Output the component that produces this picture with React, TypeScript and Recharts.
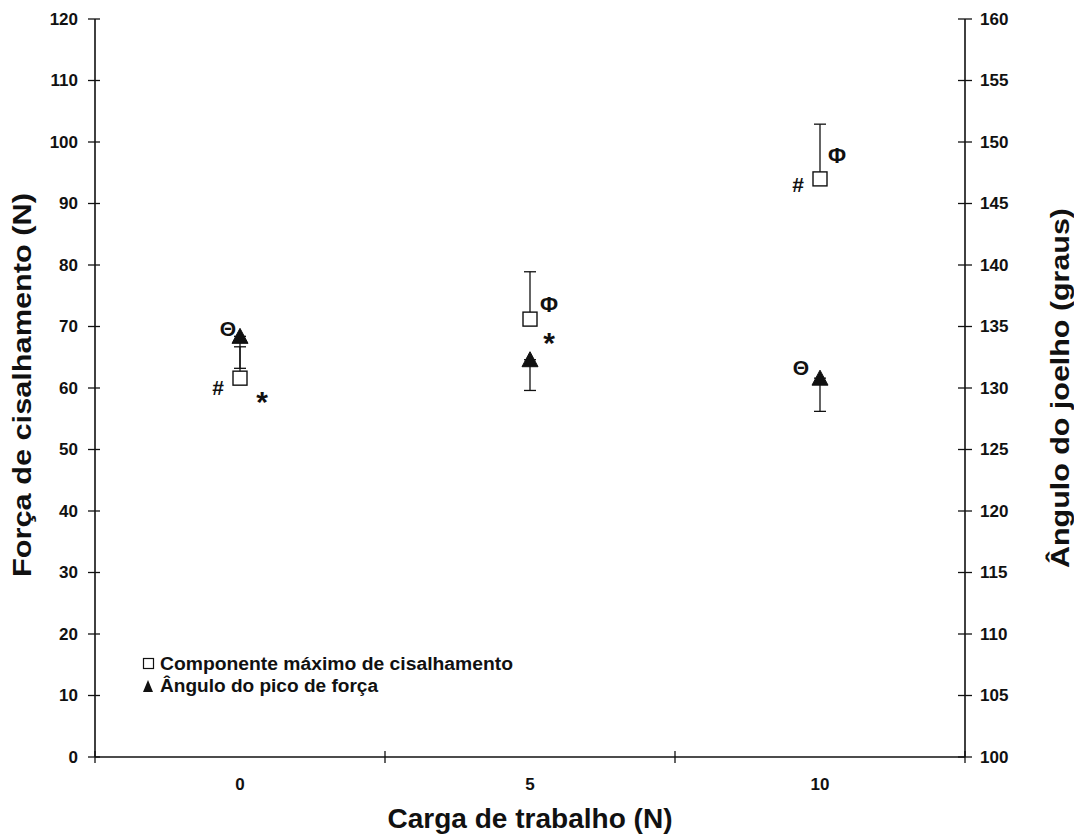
import React from 'react';
import { ScatterChart, Scatter, XAxis, YAxis, ErrorBar, Label, Legend } from 'recharts';

// ---- data ----
const workloads = [0, 5, 10];
const shearMax = [61.6, 71.2, 94.0];
const shearErrUp = [5.1, 7.7, 8.9];
const peakAngle = [134.2, 132.3, 130.8];
const peakAngleErrDown = [2.6, 2.5, 2.7];
const leftTicks = [0, 10, 20, 30, 40, 50, 60, 70, 80, 90, 100, 110, 120];
const rightTicks = [100, 105, 110, 115, 120, 125, 130, 135, 140, 145, 150, 155, 160];
const xTickLabels = [0, 5, 10];
const xTickMarks = [-2.5, 2.5, 7.5, 12.5];
const shearNotes = [['#', '*'], ['Φ', '*'], ['Φ', '#']];
const angleNotes = [['Θ'], [], ['Θ']];
const seriesNames = ['Componente máximo de cisalhamento', 'Ângulo do pico de força'];
const titles = {
  x: 'Carga de trabalho (N)',
  left: 'Força de cisalhamento (N)',
  right: 'Ângulo do joelho (graus)',
};

// ---- styling ----
const FONT = '"Liberation Sans", Arial, sans-serif';
const INK = '#111';
const shearNoteOffsets = [[[-22, 9], [22, 15]], [[19, -15], [19, 15]], [[17, -23], [-22, 6]]];
const angleNoteOffsets = [[[-12, -8]], [], [[-19, -11]]];
const noteSize: Record<string, number> = { '#': 21, '*': 30, 'Φ': 22, 'Θ': 21 };
const noteShift: Record<string, number> = { '#': 0, '*': 8, 'Φ': 0, 'Θ': 0 };

const shearData = workloads.map((x, i) => ({ x, y: shearMax[i], err: [0, shearErrUp[i]], i }));
const angleData = workloads.map((x, i) => ({ x, y: peakAngle[i], err: [peakAngleErrDown[i], 0], i }));

const Note = ({ cx, cy, s, off }: any) => (
  <text
    x={cx + off[0]}
    y={cy + off[1] + (noteShift[s] || 0)}
    textAnchor="middle"
    dominantBaseline="central"
    fontFamily={FONT}
    fontWeight="bold"
    fontSize={noteSize[s] || 18}
    fill={INK}
  >
    {s}
  </text>
);

const SquareShape = (props: any) => {
  const { cx, cy, payload } = props;
  const i = payload.i;
  return (
    <g>
      <rect x={cx - 7} y={cy - 7} width={14} height={14} fill="#fff" stroke={INK} strokeWidth={1.4} />
      {shearNotes[i].map((s, k) => (
        <Note key={k} cx={cx} cy={cy} s={s} off={shearNoteOffsets[i][k]} />
      ))}
    </g>
  );
};

const TriangleShape = (props: any) => {
  const { cx, cy, payload } = props;
  const i = payload.i;
  return (
    <g>
      <polygon points={`${cx - 8},${cy + 7} ${cx + 8},${cy + 7} ${cx},${cy - 8}`} fill={INK} stroke={INK} strokeWidth={1} />
      {angleNotes[i].map((s, k) => (
        <Note key={k} cx={cx} cy={cy} s={s} off={angleNoteOffsets[i][k]} />
      ))}
    </g>
  );
};

const tickText = { fontFamily: FONT, fontWeight: 'bold' as const, fontSize: 17, fill: INK };

const LeftTick = (p: any) => (
  <g>
    <line x1={p.x - 7} x2={p.x + 5} y1={p.y} y2={p.y} stroke={INK} strokeWidth={1.3} />
    <text x={p.x - 17} y={p.y} textAnchor="end" dominantBaseline="central" {...tickText}>
      {p.payload.value}
    </text>
  </g>
);

const RightTick = (p: any) => (
  <g>
    <line x1={p.x - 7} x2={p.x + 7} y1={p.y} y2={p.y} stroke={INK} strokeWidth={1.3} />
    <text x={p.x + 15} y={p.y} textAnchor="start" dominantBaseline="central" {...tickText}>
      {p.payload.value}
    </text>
  </g>
);

const XTick = (p: any) => {
  const v = p.payload.value;
  if (xTickMarks.includes(v)) {
    return <line x1={p.x} x2={p.x} y1={p.y - 6} y2={p.y + 6} stroke={INK} strokeWidth={1.3} />;
  }
  if (xTickLabels.includes(v)) {
    return (
      <text x={p.x} y={p.y + 27} textAnchor="middle" dominantBaseline="central" {...tickText}>
        {v}
      </text>
    );
  }
  return null;
};

const titleStyle = { fontFamily: FONT, fontWeight: 'bold' as const, fill: INK };

const LeftTitle = (props: any) => {
  const vb = props.viewBox;
  const x = vb.x + 14;
  const y = vb.y + vb.height / 2 - 3;
  return (
    <text x={x} y={y} transform={`rotate(-90 ${x} ${y})`} textAnchor="middle" dominantBaseline="central"
      fontSize={25} textLength={384} lengthAdjust="spacingAndGlyphs" {...titleStyle}>
      {titles.left}
    </text>
  );
};

const RightTitle = (props: any) => {
  const vb = props.viewBox;
  const x = vb.x + 95;
  const y = vb.y + vb.height / 2;
  return (
    <text x={x} y={y} transform={`rotate(-90 ${x} ${y})`} textAnchor="middle" dominantBaseline="central"
      fontSize={26} textLength={360} lengthAdjust="spacingAndGlyphs" {...titleStyle}>
      {titles.right}
    </text>
  );
};

const XTitle = (props: any) => {
  const vb = props.viewBox;
  const x = vb.x + vb.width / 2;
  const y = vb.y + 62;
  return (
    <text x={x} y={y} textAnchor="middle" dominantBaseline="central"
      fontSize={27} textLength={285} lengthAdjust="spacingAndGlyphs" {...titleStyle}>
      {titles.x}
    </text>
  );
};

const LegendBox = () => (
  <svg width={400} height={56} style={{ display: 'block' }}>
    <rect x={3.5} y={8.5} width={10} height={10} fill="#fff" stroke={INK} strokeWidth={1.2} />
    <text x={20} y={20} fontSize={18} textLength={353} lengthAdjust="spacingAndGlyphs" {...titleStyle}>
      {seriesNames[0]}
    </text>
    <polygon points="3,42 13,42 8,30" fill={INK} />
    <text x={20} y={42} fontSize={18} textLength={218} lengthAdjust="spacingAndGlyphs" {...titleStyle}>
      {seriesNames[1]}
    </text>
  </svg>
);

export default function App() {
  return (
    <div style={{ width: 1074, height: 832 }}>
      <ScatterChart width={1074} height={832} margin={{ top: 11, right: 0, bottom: 0, left: 0 }}>
        <XAxis
          dataKey="x"
          type="number"
          domain={[-2.5, 12.5]}
          ticks={[-2.5, 0, 2.5, 5, 7.5, 10, 12.5]}
          interval={0}
          height={83}
          tickSize={0}
          tickMargin={0}
          tickLine={false}
          axisLine={{ stroke: INK, strokeWidth: 1.6 }}
          tick={<XTick />}
          allowDataOverflow
        >
          <Label content={<XTitle />} />
        </XAxis>
        <YAxis
          yAxisId="left"
          dataKey="y"
          type="number"
          domain={[0, 120]}
          ticks={leftTicks}
          interval={0}
          width={87}
          tickSize={0}
          tickMargin={0}
          tickLine={false}
          axisLine={{ stroke: INK, strokeWidth: 1.6 }}
          tick={<LeftTick />}
        >
          <Label content={<LeftTitle />} />
        </YAxis>
        <YAxis
          yAxisId="right"
          orientation="right"
          dataKey="y"
          type="number"
          domain={[100, 160]}
          ticks={rightTicks}
          interval={0}
          width={117}
          tickSize={0}
          tickMargin={0}
          tickLine={false}
          axisLine={{ stroke: INK, strokeWidth: 1.6 }}
          tick={<RightTick />}
        >
          <Label content={<RightTitle />} />
        </YAxis>
        <Legend
          layout="horizontal"
          verticalAlign="middle"
          align="center"
          content={<LegendBox />}
          wrapperStyle={{ position: 'absolute', left: 132, top: 642, width: 400, height: 56 }}
        />
        <Scatter
          name={seriesNames[0]}
          data={shearData}
          yAxisId="left"
          shape={<SquareShape />}
          isAnimationActive={false}
        >
          <ErrorBar dataKey="err" direction="y" width={6} stroke={INK} strokeWidth={1.3} isAnimationActive={false} />
        </Scatter>
        <Scatter
          name={seriesNames[1]}
          data={angleData}
          yAxisId="right"
          shape={<TriangleShape />}
          isAnimationActive={false}
        >
          <ErrorBar dataKey="err" direction="y" width={6} stroke={INK} strokeWidth={1.3} isAnimationActive={false} />
        </Scatter>
      </ScatterChart>
    </div>
  );
}
